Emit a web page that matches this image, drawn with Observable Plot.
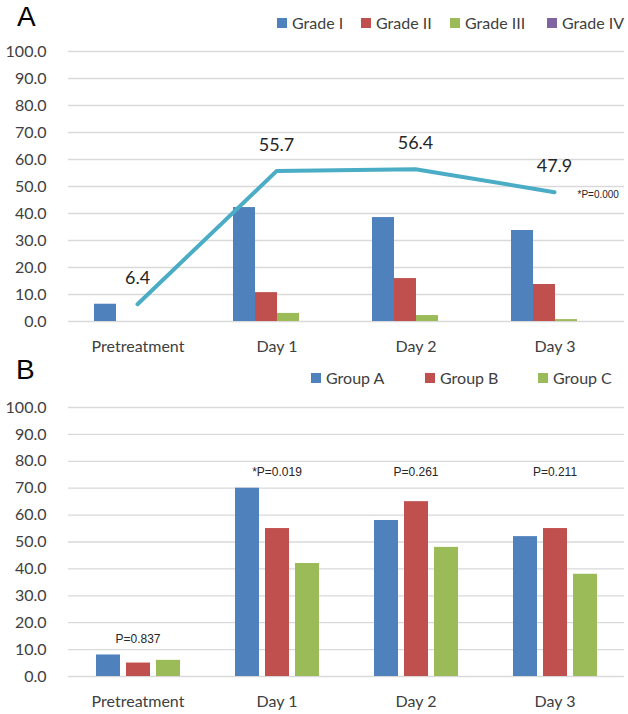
<!DOCTYPE html>
<html><head><meta charset="utf-8">
<script src="https://cdn.jsdelivr.net/npm/d3@7"></script>
<script src="https://cdn.jsdelivr.net/npm/@observablehq/plot@0.6"></script>
<style>
body{margin:0;background:#fff;}
#wrap{position:relative;width:628px;height:714px;font-family:Lato,sans-serif;overflow:hidden;}
.layer{position:absolute;left:0;}
.panel-label{position:absolute;font-family:"Liberation Sans",Arial,sans-serif;font-size:28px;line-height:28px;color:#000;}
.legend-item{position:absolute;display:flex;align-items:center;white-space:nowrap;font-size:16px;line-height:20px;height:20px;color:#404040;}
.sw{display:inline-block;width:10px;height:10px;margin-right:5px;}
</style></head>
<body><div id="wrap"></div>
<script>
// ---- data ----
const categories = ["Pretreatment", "Day 1", "Day 2", "Day 3"];
const yTicks = [0, 10, 20, 30, 40, 50, 60, 70, 80, 90, 100];

// Panel A
const gradeSeries = ["Grade I", "Grade II", "Grade III", "Grade IV"];
const gradeColors = ["#4F81BD", "#C0504D", "#9BBB59", "#8064A2"];
const gradeI   = [6.4, 42.2, 38.5, 33.7];
const gradeII  = [0, 10.7, 15.9, 13.7];
const gradeIII = [0, 3.0, 2.2, 0.7];
const gradeIV  = [0, 0, 0, 0];
const totalRate = [6.4, 55.7, 56.4, 47.9];
const pLabelA = "*P=0.000";

// Panel B
const groupSeries = ["Group A", "Group B", "Group C"];
const groupColors = ["#4F81BD", "#C0504D", "#9BBB59"];
const groupA = [8, 70, 58, 52];
const groupB = [5, 55, 65, 55];
const groupC = [6, 42, 48, 38];
const pLabelsB = ["P=0.837", "*P=0.019", "P=0.261", "P=0.211"];
const pLabelYB = [14, 76, 76, 76];

// ---- tables ----
const gradeValues = [gradeI, gradeII, gradeIII, gradeIV];
const rowsA = [];
categories.forEach((c, i) => gradeSeries.forEach((s, j) => rowsA.push({cat: c, series: s, value: gradeValues[j][i]})));
const lineRows = categories.map((c, i) => ({cat: c, value: totalRate[i]}));

const groupValues = [groupA, groupB, groupC];
const rowsB = [];
categories.forEach((c, i) => groupSeries.forEach((s, j) => rowsB.push({cat: c, series: s, value: groupValues[j][i]})));
const pRowsB = categories.map((c, i) => ({cat: c, y: pLabelYB[i], label: pLabelsB[i]}));

const fmt = d => d.toFixed(1);
const W = 628;
const ML = 67, MR = 4;
const baseStyle = {fontFamily: "Lato, sans-serif", fontSize: "16px", color: "#404040", background: "transparent", overflow: "visible"};

// ---- panel A bars ----
const hA = 360, mtA = 51, mbA = 39;
const plotA = Plot.plot({
  width: W, height: hA, marginLeft: ML, marginRight: MR, marginTop: mtA, marginBottom: mbA,
  style: baseStyle,
  fx: {domain: categories, padding: 0, label: null},
  x: {domain: gradeSeries, paddingInner: 0, paddingOuter: 1.07, axis: null},
  y: {domain: [0, 100], label: null},
  color: {domain: gradeSeries, range: gradeColors},
  marks: [
    Plot.gridY(yTicks, {stroke: "#D9D9D9", strokeOpacity: 1, strokeWidth: 1.3}),
    Plot.axisY(yTicks, {tickSize: 0, tickPadding: 22, tickFormat: fmt, label: null}),
    Plot.axisFx({anchor: "bottom", tickSize: 0, tickPadding: 19, label: null}),
    Plot.barY(rowsA, {fx: "cat", x: "series", y: "value", fill: "series"})
  ]
});

// ---- panel A line overlay ----
const lineA = Plot.plot({
  width: W, height: hA, marginLeft: ML, marginRight: MR, marginTop: mtA, marginBottom: mbA,
  style: baseStyle,
  x: {type: "point", domain: categories, padding: 0.5, axis: null},
  y: {domain: [0, 100], axis: null},
  marks: [
    Plot.line(lineRows, {x: "cat", y: "value", stroke: "#4BACC6", strokeWidth: 4, strokeLinecap: "round", strokeLinejoin: "round"}),
    Plot.text(lineRows, {x: "cat", y: "value", text: d => fmt(d.value), dy: -26, fontSize: 18, fill: "#262626"}),
    Plot.text([lineRows[lineRows.length - 1]], {x: "cat", y: "value", text: () => pLabelA, dx: 23, dy: 3, textAnchor: "start", fontSize: 10, fontFamily: "Liberation Sans, Arial, sans-serif", fill: "#262626", ariaLabel: "p-values"})
  ]
});

// ---- panel B ----
const topB = 360, hB = 354, mtB = 47, mbB = 38;
const plotB = Plot.plot({
  width: W, height: hB, marginLeft: ML, marginRight: MR, marginTop: mtB, marginBottom: mbB,
  style: baseStyle,
  fx: {domain: categories, padding: 0, label: null},
  x: {domain: groupSeries, paddingInner: 0.21, paddingOuter: 0.85, axis: null},
  y: {domain: [0, 100], label: null},
  color: {domain: groupSeries, range: groupColors},
  marks: [
    Plot.gridY(yTicks, {stroke: "#D9D9D9", strokeOpacity: 1, strokeWidth: 1.3}),
    Plot.axisY(yTicks, {tickSize: 0, tickPadding: 22, tickFormat: fmt, label: null}),
    Plot.axisFx({anchor: "bottom", tickSize: 0, tickPadding: 19, label: null}),
    Plot.barY(rowsB, {fx: "cat", x: "series", y: "value", fill: "series"}),
    Plot.text(pRowsB, {fx: "cat", y: "y", text: "label", fontSize: 12, fontFamily: "Liberation Sans, Arial, sans-serif", fill: "#262626", ariaLabel: "p-values"})
  ]
});

// ---- assemble ----
const wrap = document.getElementById("wrap");
function place(node, top) {
  const d = document.createElement("div");
  d.className = "layer";
  d.style.top = top + "px";
  d.appendChild(node);
  wrap.appendChild(d);
}
place(plotA, 0);
place(lineA, 0);
place(plotB, topB);

// italic "P" in p-value labels
const NS = "http://www.w3.org/2000/svg";
wrap.querySelectorAll('g[aria-label="p-values"] text').forEach(t => {
  const s = t.textContent;
  const k = s.indexOf("P");
  if (k < 0) return;
  t.textContent = "";
  if (k > 0) t.appendChild(document.createTextNode(s.slice(0, k)));
  const ts = document.createElementNS(NS, "tspan");
  ts.setAttribute("font-style", "italic");
  ts.textContent = "P";
  t.appendChild(ts);
  t.appendChild(document.createTextNode(s.slice(k + 1)));
});

// panel labels
function label(txt, left, top) {
  const d = document.createElement("div");
  d.className = "panel-label";
  d.style.left = left + "px";
  d.style.top = top + "px";
  d.textContent = txt;
  wrap.appendChild(d);
}
label("A", 17, 3);
label("B", 16, 356);

// legends
function legend(names, colors, lefts, centerY) {
  names.forEach((n, i) => {
    const d = document.createElement("div");
    d.className = "legend-item";
    d.style.left = lefts[i] + "px";
    d.style.top = (centerY - 10) + "px";
    const sw = document.createElement("span");
    sw.className = "sw";
    sw.style.background = colors[i];
    d.appendChild(sw);
    d.appendChild(document.createTextNode(n));
    wrap.appendChild(d);
  });
}
legend(gradeSeries, gradeColors, [277, 361, 450, 547], 23);
legend(groupSeries, groupColors, [311, 425, 538], 378);
</script>
</body></html>
